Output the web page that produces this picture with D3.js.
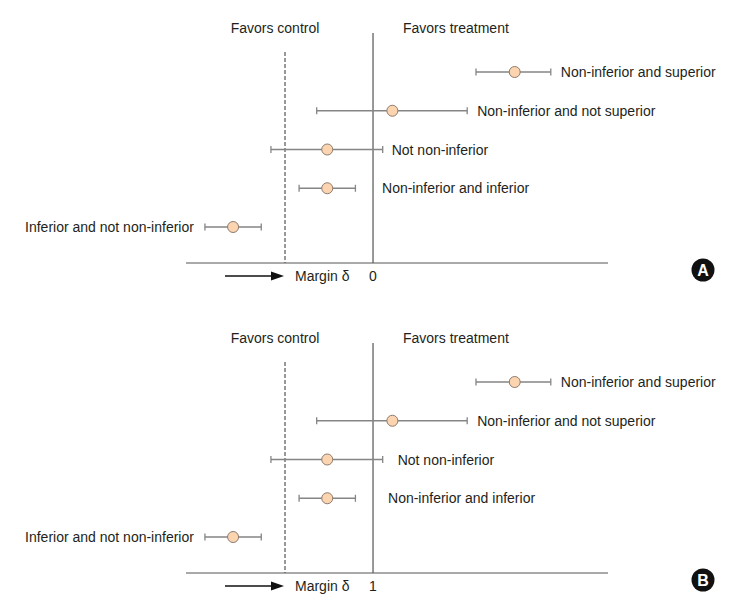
<!DOCTYPE html>
<html>
<head>
<meta charset="utf-8">
<script src="https://cdn.jsdelivr.net/npm/d3@7"></script>
<style>
  body { margin: 0; background: #fff; }
  text { font-family: "Liberation Sans", Arial, sans-serif; fill: #231f20; }
</style>
</head>
<body>
<svg id="chart" width="734" height="605"></svg>
<script>
// Results, top to bottom (difference units, margin delta = -1)
const categories = ["Non-inferior and superior", "Non-inferior and not superior",
  "Not non-inferior", "Non-inferior and inferior", "Inferior and not non-inferior"];
const estimates = [1.61, 0.22, -0.52, -0.52, -1.59];
const lowerCI = [1.17, -0.64, -1.16, -0.84, -1.91];
const upperCI = [2.02, 1.07, 0.11, -0.20, -1.27];
const margin = -1;
const refTicks = ["0", "1"];
const panelLetters = ["A", "B"];

const svg = d3.select("#chart");

const x = d3.scaleLinear()
  .domain([-2.125, 2.67])
  .range([186, 608]);

const y = d3.scalePoint()
  .domain(categories)
  .range([72, 227]);

function drawPanel(top, tick, letter, nearGap) {
  const g = svg.append("g").attr("transform", `translate(0,${top})`);
  const axisY = 263;

  g.append("text").attr("x", 275).attr("y", 33)
    .attr("text-anchor", "middle").style("font-size", "14px").text("Favors control");
  g.append("text").attr("x", 403).attr("y", 33)
    .style("font-size", "14px").text("Favors treatment");

  // reference line and margin line
  g.append("line")
    .attr("x1", x(0)).attr("x2", x(0)).attr("y1", 33).attr("y2", axisY)
    .attr("stroke", "#333").attr("stroke-width", 1);
  g.append("line")
    .attr("x1", x(margin)).attr("x2", x(margin)).attr("y1", 52).attr("y2", axisY)
    .attr("stroke", "#333").attr("stroke-width", 1).attr("stroke-dasharray", "4,2");

  // bottom axis
  g.append("line")
    .attr("x1", x.range()[0]).attr("x2", x.range()[1]).attr("y1", axisY).attr("y2", axisY)
    .attr("stroke", "#555").attr("stroke-width", 1);

  // arrow + margin label
  g.append("line")
    .attr("x1", 225).attr("x2", 273).attr("y1", axisY + 13).attr("y2", axisY + 13)
    .attr("stroke", "#111").attr("stroke-width", 1.3);
  g.append("path")
    .attr("d", `M${x(margin) - 1},${axisY + 13} l-13,-4.5 l0,9 z`)
    .attr("fill", "#111");
  g.append("text").attr("x", 295).attr("y", axisY + 18)
    .style("font-size", "14px").text("Margin \u03b4");
  g.append("text").attr("x", x(0)).attr("y", axisY + 18)
    .attr("text-anchor", "middle").style("font-size", "14px").text(tick);

  // CIs
  const rows = g.selectAll(".row")
    .data(categories)
    .enter()
    .append("g")
    .attr("class", "row")
    .attr("transform", d => `translate(0,${y(d)})`);

  rows.append("line")
    .attr("x1", (d, i) => x(lowerCI[i])).attr("x2", (d, i) => x(upperCI[i]))
    .attr("stroke", "#858585").attr("stroke-width", 1.3);
  rows.append("line")
    .attr("x1", (d, i) => x(lowerCI[i])).attr("x2", (d, i) => x(lowerCI[i]))
    .attr("y1", -3.5).attr("y2", 3.5)
    .attr("stroke", "#858585").attr("stroke-width", 1.3);
  rows.append("line")
    .attr("x1", (d, i) => x(upperCI[i])).attr("x2", (d, i) => x(upperCI[i]))
    .attr("y1", -3.5).attr("y2", 3.5)
    .attr("stroke", "#858585").attr("stroke-width", 1.3);
  rows.append("circle")
    .attr("cx", (d, i) => x(estimates[i]))
    .attr("r", 5.5)
    .attr("fill", "#fcd4b0")
    .attr("stroke", "#8c7c70")
    .attr("stroke-width", 1);

  rows.append("text")
    .attr("x", (d, i) => {
      if (i === 4) return x(lowerCI[i]) - 11;
      if (i === 3) return x(0) + nearGap;
      if (i === 2) return x(upperCI[i]) + nearGap;
      return x(upperCI[i]) + 10;
    })
    .attr("y", 5)
    .attr("text-anchor", (d, i) => i === 4 ? "end" : "start")
    .style("font-size", "14px")
    .text(d => d);

  // panel letter
  g.append("circle").attr("cx", 703).attr("cy", 270).attr("r", 11.5).attr("fill", "#111");
  g.append("text").attr("x", 703).attr("y", 276)
    .attr("text-anchor", "middle")
    .style("font-size", "16px").style("font-weight", "bold")
    .style("fill", "#fff")
    .text(letter);
}

drawPanel(0, refTicks[0], panelLetters[0], 9);
drawPanel(310, refTicks[1], panelLetters[1], 15);
</script>
</body>
</html>
